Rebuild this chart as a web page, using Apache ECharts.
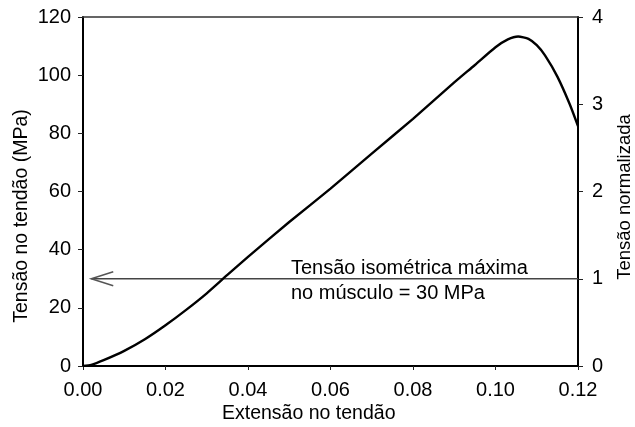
<!DOCTYPE html>
<html>
<head>
<meta charset="utf-8">
<script src="https://cdn.jsdelivr.net/npm/echarts@6/dist/echarts.min.js"></script>
<style>
  html, body { margin: 0; padding: 0; background: #fff; }
  #main { width: 635px; height: 427px; }
</style>
</head>
<body>
<div id="main"></div>
<script>
// curva tensão x extensão do tendão
const extensao = [0, 0.002, 0.005, 0.01, 0.015, 0.02, 0.025, 0.03, 0.035, 0.04, 0.05, 0.06, 0.07, 0.08, 0.09, 0.095, 0.1, 0.103, 0.1055, 0.108, 0.11, 0.112, 0.115, 0.118, 0.12];
const tensao   = [0, 0.4, 2, 5.2, 9.2, 14, 19.3, 25, 31.3, 37.5, 49.5, 61, 73, 85, 97.5, 103.5, 109.6, 112.3, 113.3, 112.5, 110.3, 106.8, 99.5, 90, 82.5];

// tensão isométrica máxima (seta)
const setaX = [0.002, 0.12];
const setaY = 30;

// eixos
const xTicks = [0, 0.12, 0.02];
const yTicks = [0, 120, 20];
const yNormTicks = [0, 4, 1];

const fonte = "'Liberation Sans', Arial, sans-serif";

const chart = echarts.init(document.getElementById('main'));

const option = {
  animation: false,
  backgroundColor: '#fff',
  grid: { left: 83, right: 57, top: 17, bottom: 61 },
  xAxis: [
    {
      type: 'value',
      min: xTicks[0], max: xTicks[1], interval: xTicks[2],
      position: 'bottom',
      axisLine: { onZero: false, lineStyle: { color: '#000', width: 2 } },
      axisTick: { inside: false, length: 4, lineStyle: { color: '#222', width: 1 } },
      axisLabel: { color: '#000', fontSize: 20, fontFamily: fonte, margin: 14,
        formatter: v => v.toFixed(2) },
      splitLine: { show: false }
    },
    {
      type: 'value',
      min: xTicks[0], max: xTicks[1], interval: xTicks[2],
      position: 'top',
      axisLine: { show: true, onZero: false, lineStyle: { color: '#333', width: 1.5 } },
      axisTick: { show: false },
      axisLabel: { show: false },
      splitLine: { show: false }
    }
  ],
  yAxis: [
    {
      type: 'value',
      min: yTicks[0], max: yTicks[1], interval: yTicks[2],
      position: 'left',
      axisLine: { show: true, onZero: false, lineStyle: { color: '#000', width: 2 } },
      axisTick: { show: true, length: 5, lineStyle: { color: '#222', width: 1 } },
      axisLabel: { color: '#000', fontSize: 20, fontFamily: fonte, margin: 12 },
      splitLine: { show: false }
    },
    {
      type: 'value',
      min: yNormTicks[0], max: yNormTicks[1], interval: yNormTicks[2],
      position: 'right',
      axisLine: { show: true, onZero: false, lineStyle: { color: '#000', width: 2 } },
      axisTick: { show: true, inside: false, length: 5, lineStyle: { color: '#222', width: 1 } },
      axisLabel: { color: '#000', fontSize: 20, fontFamily: fonte, margin: 14 },
      splitLine: { show: false }
    }
  ],
  graphic: [
    { type: 'text', left: 222, top: 404,
      style: { text: 'Extensão no tendão', fill: '#000', font: '19.5px ' + fonte } },
    { type: 'text', x: 12, y: 216, rotation: Math.PI / 2, originX: 0, originY: 0,
      style: { text: 'Tensão no tendão (MPa)', fill: '#000', font: '19.5px ' + fonte,
        align: 'center', verticalAlign: 'top' } },
    { type: 'text', x: 615, y: 197, rotation: Math.PI / 2, originX: 0, originY: 0,
      style: { text: 'Tensão normalizada', fill: '#000', font: '18.5px ' + fonte,
        align: 'center', verticalAlign: 'top' } },
    { type: 'text', left: 291, top: 256,
      style: { text: 'Tensão isométrica máxima\nno músculo = 30 MPa', fill: '#000',
        font: '20px ' + fonte, lineHeight: 25 } }
  ],
  series: [
    {
      name: 'Tensão',
      type: 'line',
      data: extensao.map((x, i) => [x, tensao[i]]),
      showSymbol: false,
      smooth: 0.2,
      lineStyle: { color: '#000', width: 2.4 },
      z: 5
    },
    {
      name: 'Tensão isométrica',
      type: 'line',
      data: setaX.map(x => [x, setaY]),
      showSymbol: false,
      lineStyle: { color: '#444', width: 1.5 },
      z: 3
    },
    {
      name: 'Seta',
      type: 'custom',
      data: [[setaX[0], setaY]],
      renderItem: (params, api) => {
        const p = api.coord([api.value(0), api.value(1)]);
        return {
          type: 'polyline',
          shape: { points: [[p[0] + 22, p[1] - 7], [p[0], p[1]], [p[0] + 22, p[1] + 7]] },
          style: { stroke: '#555', lineWidth: 1.5, fill: null }
        };
      },
      z: 4
    }
  ]
};

chart.setOption(option);
</script>
</body>
</html>
